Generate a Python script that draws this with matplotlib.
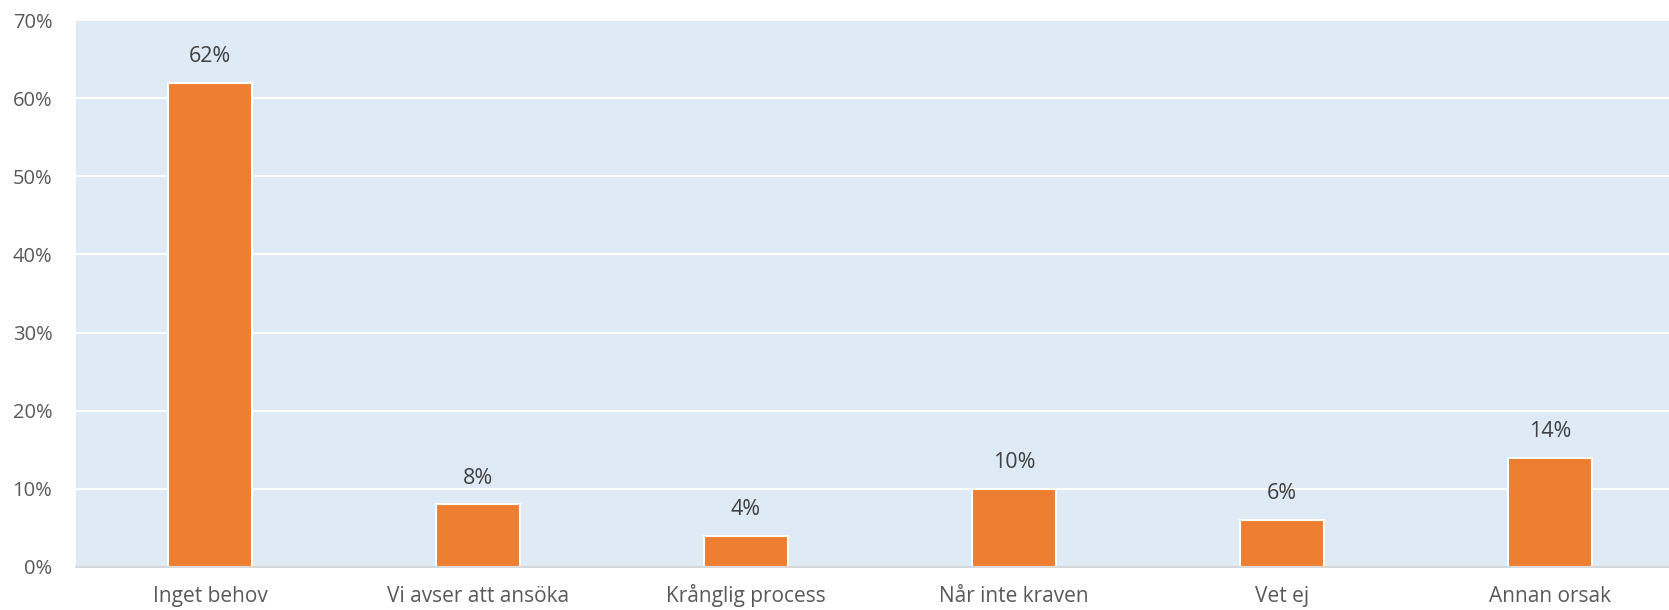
import matplotlib.pyplot as plt
import numpy as np

categories = ['Inget behov', 'Vi avser att ansöka', 'Krånglig process',
              'Når inte kraven', 'Vet ej', 'Annan orsak']
values = [62, 8, 4, 10, 6, 14]
yticks = [0, 10, 20, 30, 40, 50, 60, 70]

plt.rcParams['font.family'] = ['Open Sans', 'DejaVu Sans']
text_color = '#595959'

W, H = 1669, 610
fig = plt.figure(figsize=(W / 100, H / 100), dpi=100)
# plot area in pixels: left 76, top 20, bottom 567, one category = 268 px
left, top, bottom, step = 76, 20, 567, 268
ax = fig.add_axes([left / W, (H - bottom) / H, (W - left) / W, (bottom - top) / H])
ax.set_facecolor('#DEEAF6')

x = np.arange(len(categories))
bars = ax.bar(x, values, width=0.31, color='#ED7D31', edgecolor='white',
              linewidth=1.5, zorder=3)

for rect, v in zip(bars, values):
    ax.annotate(f'{v}%', (rect.get_x() + rect.get_width() / 2, v),
                xytext=(0, 19), textcoords='offset points',
                ha='center', va='center', fontsize=15.5, color='#404040')

ax.set_xlim(-0.5, (W - left) / step - 0.5)
ax.set_ylim(0, 70)
ax.set_yticks(yticks)
ax.set_yticklabels([f'{t}%' for t in yticks])
ax.set_xticks(x)
ax.set_xticklabels(categories, va='baseline')
ax.yaxis.grid(True, color='white', linewidth=1.5, zorder=1)
ax.set_axisbelow(True)

for side in ['top', 'right', 'left']:
    ax.spines[side].set_visible(False)
ax.spines['bottom'].set_color('#D9D9D9')
ax.spines['bottom'].set_linewidth(1.5)
ax.spines['bottom'].set_zorder(4)

ax.tick_params(axis='y', length=0, pad=17, labelsize=14.5, labelcolor=text_color)
ax.tick_params(axis='x', length=0, pad=25, labelsize=15, labelcolor=text_color)

fig.savefig('out.png', dpi=100, facecolor='white')
